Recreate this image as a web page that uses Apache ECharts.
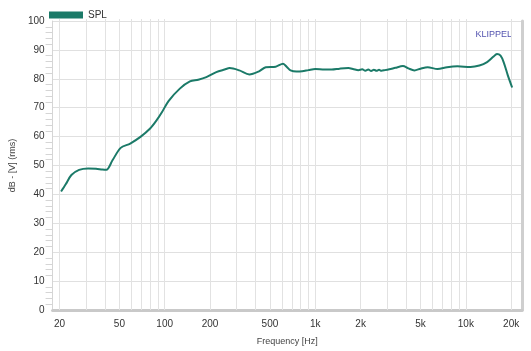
<!DOCTYPE html>
<html>
<head>
<meta charset="utf-8">
<script src="https://cdn.jsdelivr.net/npm/echarts@6/dist/echarts.min.js"></script>
<style>
  html, body { margin: 0; padding: 0; background: #fff; }
  #chart { width: 531px; height: 351px; }
</style>
</head>
<body>
<div id="chart"></div>
<script>
// measured curve, frequency in Hz / level in dB (rows kept the same length)
const freqs = [
  20.5, 22, 24, 27, 31, 35, 38.5, 41, 45, 51,
  59, 69, 80, 88, 96, 106, 126, 147, 167, 189,
  220, 250, 270, 313, 365, 420, 469, 546, 611, 650,
  685, 750, 818, 900, 1000, 1150, 1288, 1450, 1660, 1800,
  1932, 2050, 2150, 2250, 2350, 2450, 2550, 2650, 2750, 2900,
  3100, 3400, 3820, 4150, 4554, 5000, 5576, 6488, 7500, 8790,
  10740, 12300, 13840, 15200, 16100, 17000, 17820, 19000, 20300];
const spl = [
  41, 43.5, 46.7, 48.5, 49, 48.9, 48.6, 48.5, 51.8, 56.1,
  57.6, 59.9, 62.8, 65.5, 68.5, 72.3, 76.6, 79.1, 79.7, 80.6,
  82.3, 83.2, 83.7, 82.9, 81.5, 82.5, 84, 84.2, 85.2, 84,
  82.9, 82.5, 82.6, 83, 83.4, 83.2, 83.2, 83.5, 83.7, 83.3,
  83.0, 83.3, 82.8, 83.2, 82.7, 83.1, 82.8, 83.1, 82.8, 83.0,
  83.3, 83.8, 84.4, 83.6, 82.9, 83.5, 84.0, 83.4, 84.0, 84.3,
  84.1, 84.6, 85.8, 87.6, 88.6, 88, 85.8, 81.2, 77];

const gridFreqs = [20, 30, 40, 50, 60, 70, 80, 90, 100, 200, 300, 400, 500, 600, 700, 800, 900,
  1000, 2000, 3000, 4000, 5000, 6000, 7000, 8000, 9000, 10000, 20000];
const labelFreqs = [20, 50, 100, 200, 500, 1000, 2000, 5000, 10000, 20000];

const lg = v => Math.log10(v);
const fmtFreq = v => {
  const f = Math.round(Math.pow(10, v));
  return f >= 1000 ? (f / 1000) + 'k' : String(f);
};

const chart = echarts.init(document.getElementById('chart'));
chart.setOption({
  animation: false,
  textStyle: { fontFamily: 'Arial, "Liberation Sans", sans-serif' },
  legend: {
    left: 44, top: 5,
    icon: 'rect', itemWidth: 34, itemHeight: 7, itemGap: 6,
    textStyle: { fontSize: 10, color: '#333' },
    data: ['SPL']
  },
  grid: { left: 48, right: 9, top: 21, bottom: 39 },
  xAxis: {
    type: 'value',
    min: lg(18), max: lg(23600),
    name: 'Frequency [Hz]', nameLocation: 'middle', nameGap: 27,
    nameTextStyle: { fontSize: 9, color: '#444' },
    axisLine: { show: true, onZero: false, lineStyle: { color: '#c9c9c9', width: 3 } },
    axisTick: {
      show: true, inside: true, length: 291,
      customValues: gridFreqs.map(lg),
      lineStyle: { color: '#e2e2e2', width: 1 }
    },
    axisLabel: {
      customValues: labelFreqs.map(lg),
      formatter: fmtFreq,
      fontSize: 10, color: '#333', margin: 9
    },
    splitLine: { show: false }
  },
  yAxis: [{
    type: 'value', min: 0, max: 100, interval: 10,
    name: 'dB - [V] (rms)', nameLocation: 'middle', nameGap: 32,
    nameTextStyle: { fontSize: 9, color: '#444' },
    axisLine: { show: true, lineStyle: { color: '#d5d5d5' } },
    axisTick: { show: false },
    minorTick: { show: true, splitNumber: 5, length: 7, lineStyle: { color: '#d5d5d5' } },
    axisLabel: { fontSize: 10, color: '#333', margin: 8 },
    splitLine: { lineStyle: { color: '#e0e0e0' } }
  }, {
    type: 'value', min: 0, max: 100, position: 'right',
    axisLine: { show: true, lineStyle: { color: '#cfcfcf', width: 3 } },
    axisTick: { show: false }, axisLabel: { show: false }, splitLine: { show: false }
  }],
  graphic: [{
    type: 'text', right: 19, top: 30,
    style: { text: 'KLIPPEL', fill: '#5454b0', fontSize: 9, fontFamily: 'Arial, sans-serif' }
  }],
  series: [{
    name: 'SPL', type: 'line',
    data: freqs.map((f, i) => [lg(f), spl[i]]),
    smooth: 0.3, showSymbol: false,
    itemStyle: { color: '#1b7a68' },
    lineStyle: { color: '#1b7a68', width: 2 }
  }]
});
</script>
</body>
</html>
